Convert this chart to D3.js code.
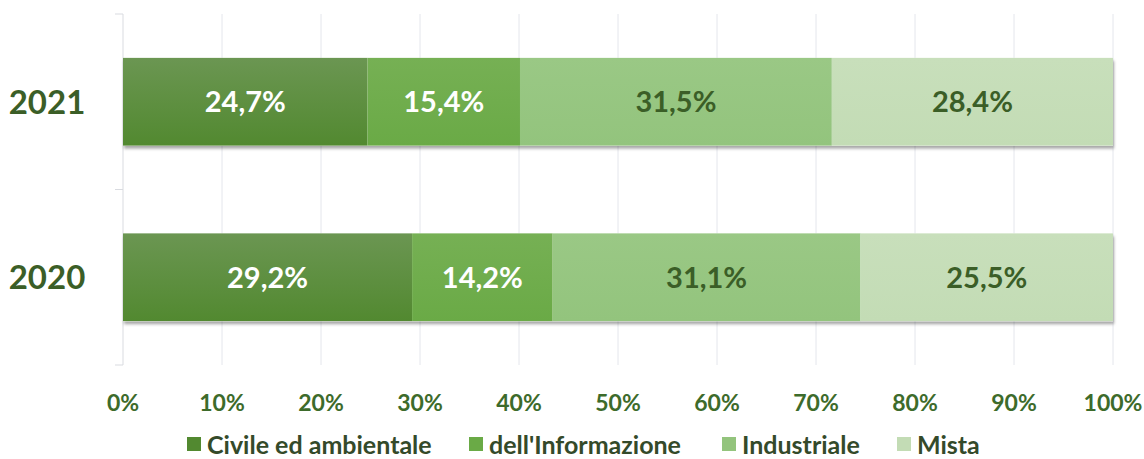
<!DOCTYPE html>
<html>
<head>
<meta charset="utf-8">
<script src="https://cdn.jsdelivr.net/npm/d3@7"></script>
<style>
  body { margin: 0; background: #fff; }
  svg text { font-family: Lato, "Open Sans", sans-serif; font-weight: 700; }
</style>
</head>
<body>
<div id="chart"></div>
<script>
// data
var years = ["2021", "2020"];
var series = ["Civile ed ambientale", "dell'Informazione", "Industriale", "Mista"];
var values2021 = [24.7, 15.4, 31.5, 28.4];
var values2020 = [29.2, 14.2, 31.1, 25.5];
var tickValues = [0, 10, 20, 30, 40, 50, 60, 70, 80, 90, 100];

var colors = ["#528930", "#6aaa46", "#93c47d", "#c3dcb5"];
var topColors = ["#6b9652", "#76b054", "#9ac885", "#c8dfbb"];
var labelColors = ["#ffffff", "#ffffff", "#3b5e27", "#3b5e27"];

var W = 1144, H = 459;
var x0 = 123, x1 = 1113;

var svg = d3.select("#chart").append("svg")
    .attr("width", W)
    .attr("height", H);

var defs = svg.append("defs");
colors.forEach(function (c, i) {
    var g = defs.append("linearGradient")
        .attr("id", "grad" + i)
        .attr("x1", 0).attr("y1", 0).attr("x2", 0).attr("y2", 1);
    g.append("stop").attr("offset", "0%").attr("stop-color", topColors[i]);
    g.append("stop").attr("offset", "100%").attr("stop-color", c);
});
var shadow = defs.append("filter").attr("id", "shadow")
    .attr("x", "-5%").attr("y", "-10%").attr("width", "110%").attr("height", "130%");
shadow.append("feDropShadow")
    .attr("dx", 1).attr("dy", 3).attr("stdDeviation", 1.5)
    .attr("flood-color", "#000").attr("flood-opacity", 0.35);

var x = d3.scaleLinear().domain([0, 100]).range([x0, x1]);
var y = d3.scaleBand().domain(years).range([14, 365]).paddingInner(0.5).paddingOuter(0.25);

// gridlines
svg.append("g").selectAll("line")
    .data(tickValues.slice(1))
    .enter().append("line")
    .attr("x1", function (d) { return x(d); })
    .attr("x2", function (d) { return x(d); })
    .attr("y1", 14)
    .attr("y2", 365)
    .attr("stroke", "#e4e6ec")
    .attr("stroke-width", 1);

// left axis line + ticks
svg.append("line")
    .attr("x1", x0).attr("x2", x0).attr("y1", 14).attr("y2", 365)
    .attr("stroke", "#d9dbe0");
svg.append("g").selectAll("line")
    .data([14, 189.5, 365])
    .enter().append("line")
    .attr("x1", x0 - 8).attr("x2", x0)
    .attr("y1", function (d) { return d; })
    .attr("y2", function (d) { return d; })
    .attr("stroke", "#d9dbe0");

// stacked rows
var rows = [values2021, values2020];
rows.forEach(function (vals, r) {
    var stack = [];
    var acc = 0;
    vals.forEach(function (v, i) {
        stack.push({ start: acc, end: acc + v, value: v, i: i });
        acc += v;
    });
    var g = svg.append("g");
    g.append("rect")
        .attr("x", x(0))
        .attr("y", y(years[r]))
        .attr("width", x(100) - x(0))
        .attr("height", y.bandwidth())
        .attr("fill", "#fff")
        .attr("filter", "url(#shadow)");
    g.selectAll("rect.seg")
        .data(stack)
        .enter().append("rect")
        .attr("class", "seg")
        .attr("x", function (d) { return x(d.start); })
        .attr("y", y(years[r]))
        .attr("width", function (d) { return x(d.end) - x(d.start); })
        .attr("height", y.bandwidth())
        .attr("fill", function (d) { return "url(#grad" + d.i + ")"; });
    g.selectAll("text")
        .data(stack)
        .enter().append("text")
        .attr("x", function (d) { return (x(d.start) + x(d.end)) / 2; })
        .attr("y", y(years[r]) + y.bandwidth() / 2)
        .attr("dy", "0.36em")
        .attr("text-anchor", "middle")
        .attr("font-size", 29)
        .attr("fill", function (d) { return labelColors[d.i]; })
        .text(function (d) { return d.value.toFixed(1).replace(".", ",") + "%"; });
});

// year labels
svg.append("g").selectAll("text")
    .data(years)
    .enter().append("text")
    .attr("x", 47)
    .attr("y", function (d) { return y(d) + y.bandwidth() / 2; })
    .attr("dy", "0.36em")
    .attr("text-anchor", "middle")
    .attr("font-size", 33)
    .attr("fill", "#3b5e27")
    .text(function (d) { return d; });

// x axis labels
svg.append("g").selectAll("text")
    .data(tickValues)
    .enter().append("text")
    .attr("x", function (d) { return x(d); })
    .attr("y", 403)
    .attr("dy", "0.36em")
    .attr("text-anchor", "middle")
    .attr("font-size", 23)
    .attr("fill", "#3d6b2b")
    .text(function (d) { return d + "%"; });

// legend
var legendX = [187, 469, 722, 897];
var legend = svg.append("g");
series.forEach(function (s, i) {
    legend.append("rect")
        .attr("x", legendX[i])
        .attr("y", 437)
        .attr("width", 14)
        .attr("height", 14)
        .attr("fill", colors[i]);
    legend.append("text")
        .attr("x", legendX[i] + 20)
        .attr("y", 445)
        .attr("dy", "0.36em")
        .attr("font-size", 25)
        .attr("fill", "#344a2a")
        .text(s);
});
</script>
</body>
</html>
